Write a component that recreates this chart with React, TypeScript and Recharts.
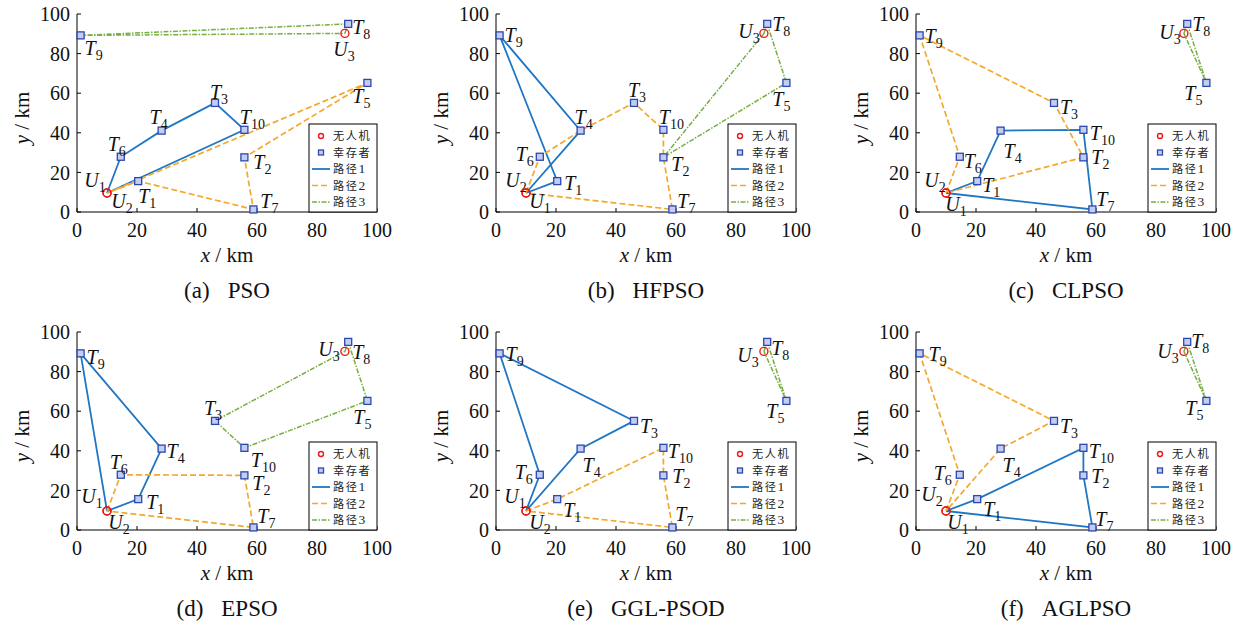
import { ScatterChart, Scatter, XAxis, YAxis } from "recharts";

// ---- data ----
const TARGET_NAMES = ["T1", "T2", "T3", "T4", "T5", "T6", "T7", "T8", "T9", "T10"];
const TARGET_X = [20.4, 55.8, 46, 28.2, 96.8, 14.6, 58.8, 90.4, 1.2, 55.8];
const TARGET_Y = [15.6, 27.6, 55.1, 41.1, 65.2, 27.9, 1.3, 95, 89.2, 41.5];

const UAV_NAMES = ["U1", "U2", "U3"];
const UAV_X = [10, 10, 89.3];
const UAV_Y = [9.6, 9.6, 90.2];

const AXIS_TICKS = [0, 20, 40, 60, 80, 100];

const PANEL_IDS = ["a", "b", "c", "d", "e", "f"];
const PANEL_ALGOS = ["PSO", "HFPSO", "CLPSO", "EPSO", "GGL-PSOD", "AGLPSO"];

const MARKER_NAMES = ["无人机", "幸存者"];
const ROUTE_NAMES = ["路径", "路径", "路径"];

// visiting order of each UAV, per algorithm
const ROUTES_PSO = [
  ["U1", "T6", "T4", "T3", "T10", "U1"],
  ["U2", "T5", "T2", "T7", "T1", "U2"],
  ["U3", "T8", "T9", "U3"],
];
const ROUTES_HFPSO = [
  ["U1", "T1", "T9", "T4", "U1"],
  ["U2", "T6", "T4", "T3", "T10", "T2", "T7", "U2"],
  ["U3", "T8", "T5", "T2", "U3"],
];
const ROUTES_CLPSO = [
  ["U1", "T1", "T4", "T10", "T7", "U1"],
  ["U2", "T6", "T9", "T3", "T2", "U2"],
  ["U3", "T8", "T5", "U3"],
];
const ROUTES_EPSO = [
  ["U1", "T1", "T4", "T9", "U1"],
  ["U2", "T6", "T2", "T7", "U2"],
  ["U3", "T8", "T5", "T10", "T3", "U3"],
];
const ROUTES_GGL = [
  ["U1", "T6", "T9", "T3", "T4", "U1"],
  ["U2", "T1", "T10", "T2", "T7", "U2"],
  ["U3", "T8", "T5", "U3"],
];
const ROUTES_AGL = [
  ["U1", "T1", "T10", "T2", "T7", "U1"],
  ["U2", "T6", "T9", "T3", "T4", "U2"],
  ["U3", "T8", "T5", "U3"],
];
const PANEL_ROUTES = [ROUTES_PSO, ROUTES_HFPSO, ROUTES_CLPSO, ROUTES_EPSO, ROUTES_GGL, ROUTES_AGL];

// ---- label placement (px offset of label centre from its marker) ----
type Off = Record<string, [number, number]>;
const LABEL_OFFSETS: Off[] = [
  { T9: [13, 13], T8: [13, 3], U3: [-1, 16], T5: [-6, 13], T3: [4, -11], T4: [-3, -14], T10: [8, -13], T6: [-4, -13], T2: [18, 5], U1: [-12, -13], U2: [15, 8], T1: [9, 15], T7: [16, -8] },
  { T9: [14, 0], T4: [3, -14], T3: [3, -13], T10: [8, -13], T6: [-15, -3], U2: [-10, -13], U1: [14, 8], T1: [16, 2], T2: [17, 7], T7: [14, -8], U3: [-15, -2], T8: [14, 0], T5: [-5, 16] },
  { T9: [14, 1], T3: [15, 4], T10: [19, 3], T4: [12, 20], T6: [13, 4], T2: [17, 0], U2: [-11, -13], U1: [10, 11], T1: [14, 4], T7: [13, -10], U3: [-14, -1], T8: [14, 0], T5: [-13, 10] },
  { T9: [15, 4], U3: [-16, -2], T8: [13, 10], T3: [-2, -13], T5: [-5, 16], T10: [19, 12], T4: [14, 2], T6: [-2, -13], T2: [17, 8], U1: [-15, -15], U2: [12, 11], T1: [17, 3], T7: [13, -11] },
  { T9: [15, 1], T8: [13, 6], U3: [-16, 4], T5: [-11, 10], T3: [15, 5], T4: [11, 16], T10: [17, 3], T6: [-16, -3], T2: [18, 1], U1: [-11, -15], U2: [14, 11], T1: [15, 11], T7: [12, -13] },
  { T9: [18, 1], T8: [13, -1], U3: [-16, 0], T5: [-12, 7], T3: [15, 5], T4: [11, 16], T10: [18, 3], T6: [-17, -2], T2: [17, 1], U2: [-14, -17], U1: [12, 11], T1: [15, 10], T7: [12, -8] },
];

const SERIF = '"Liberation Serif", "Times New Roman", serif';
const CJK = '"Noto Sans CJK SC", sans-serif';
const ROUTE_STYLES = [
  { stroke: "#1f77c4", strokeWidth: 1.8, strokeDasharray: undefined as string | undefined },
  { stroke: "#f2a92e", strokeWidth: 1.7, strokeDasharray: "6 3" },
  { stroke: "#76b041", strokeWidth: 1.5, strokeDasharray: "5 1.5 1.5 1.5" },
];

const PANEL_LEFT = [0, 419, 839];
const PANEL_TOP = [0, 318];

const pointOf: Record<string, { x: number; y: number }> = {};
TARGET_NAMES.forEach((n, i) => (pointOf[n] = { x: TARGET_X[i], y: TARGET_Y[i] }));
UAV_NAMES.forEach((n, i) => (pointOf[n] = { x: UAV_X[i], y: UAV_Y[i] }));

const targets = TARGET_NAMES.map((name) => ({ name, ...pointOf[name] }));
const uavs = UAV_NAMES.map((name) => ({ name, ...pointOf[name] }));

function NameLabel({ x, y, name }: { x: number; y: number; name: string }) {
  return (
    <text x={x} y={y + 7} textAnchor="middle" fontFamily={SERIF} fontSize={20} fill="#111">
      <tspan fontStyle="italic">{name[0]}</tspan>
      <tspan fontSize={14} dy={5}>{name.slice(1)}</tspan>
    </text>
  );
}

function Panel({ idx }: { idx: number }) {
  const offs = LABEL_OFFSETS[idx];
  const left = PANEL_LEFT[idx % 3];
  const top = PANEL_TOP[Math.floor(idx / 3)];
  const labelAt = (p: any) => {
    const o = offs[p.payload.name] || [12, 0];
    return <NameLabel x={p.cx + o[0]} y={p.cy + o[1]} name={p.payload.name} />;
  };
  const axisTick = { fontSize: 20, fill: "#111", fontFamily: SERIF };
  return (
    <div style={{ position: "absolute", left, top, width: 400, height: 310 }}>
      <ScatterChart width={400} height={245} margin={{ top: 14, right: 23, bottom: 0, left: 0 }}>
        <XAxis type="number" dataKey="x" domain={[0, 100]} ticks={AXIS_TICKS} height={33}
          stroke="#000" tickSize={-4} tickMargin={15} tick={axisTick} interval={0} />
        <XAxis xAxisId="top" orientation="top" type="number" dataKey="x" domain={[0, 100]}
          ticks={AXIS_TICKS} height={0} stroke="#000" tickSize={-4} tickFormatter={() => ""} />
        <YAxis type="number" dataKey="y" domain={[0, 100]} ticks={AXIS_TICKS} width={77}
          stroke="#000" tickSize={-4} tickMargin={11} tick={axisTick} interval={0} />
        <YAxis yAxisId="right" orientation="right" type="number" dataKey="y" domain={[0, 100]}
          ticks={AXIS_TICKS} width={0} stroke="#000" tickSize={-4} tickFormatter={() => ""} />
        {PANEL_ROUTES[idx].map((route, r) => (
          <Scatter key={r} name={`${ROUTE_NAMES[r]} ${r + 1}`} data={route.map((n) => pointOf[n])}
            line={ROUTE_STYLES[r]} lineType="joint" shape={() => <g />} isAnimationActive={false} />
        ))}
        <Scatter name={MARKER_NAMES[1]} data={targets} isAnimationActive={false}
          shape={(p: any) => (
            <rect x={p.cx - 3.5} y={p.cy - 3.5} width={7} height={7} fill="#c3cdef" stroke="#2b47b0" strokeWidth={1.3} />
          )} />
        <Scatter name={MARKER_NAMES[0]} data={uavs} isAnimationActive={false}
          shape={(p: any) => <circle cx={p.cx} cy={p.cy} r={4} fill="none" stroke="#f01818" strokeWidth={1.4} />} />
        <Scatter data={targets} isAnimationActive={false} shape={labelAt} />
        <Scatter data={uavs} isAnimationActive={false} shape={labelAt} />
      </ScatterChart>
      <svg width={400} height={310} style={{ position: "absolute", left: 0, top: 0, pointerEvents: "none" }}>
        <text transform="translate(29,118) rotate(-90)" textAnchor="middle" fontFamily={SERIF} fontSize={21} fill="#111">
          <tspan fontStyle="italic">y</tspan> / km
        </text>
        <text x={227} y={262} textAnchor="middle" fontFamily={SERIF} fontSize={21} fill="#111">
          <tspan fontStyle="italic">x</tspan> / km
        </text>
        <text x={227} y={298} textAnchor="middle" fontFamily={SERIF} fontSize={23} fill="#111">
          ({PANEL_IDS[idx]})<tspan dx={18}>{PANEL_ALGOS[idx]}</tspan>
        </text>
        <g>
          <rect x={309} y={124} width={68} height={88} fill="#fff" stroke="#000" strokeWidth={1} />
          <circle cx={321} cy={136} r={2.5} fill="none" stroke="#f01818" strokeWidth={1.4} />
          <rect x={318.5} y={150} width={5} height={5} fill="#c3cdef" stroke="#2b47b0" strokeWidth={1.3} />
          {ROUTE_STYLES.map((s, r) => (
            <line key={r} x1={312} x2={330} y1={169 + r * 16.5} y2={169 + r * 16.5} {...s} />
          ))}
          {MARKER_NAMES.map((t, i) => (
            <text key={t} x={333} y={140 + i * 16.5} fontFamily={CJK} fontSize={11.2} letterSpacing={1.5} fill="#222">{t}</text>
          ))}
          {ROUTE_NAMES.map((t, r) => (
            <text key={r} x={333} y={173 + r * 16.5} fontFamily={CJK} fontSize={11.2} letterSpacing={1.5} fill="#222">
              {t}
              <tspan fontFamily={SERIF} fontSize={13.5} letterSpacing={0}>{r + 1}</tspan>
            </text>
          ))}
        </g>
      </svg>
    </div>
  );
}

export default function App() {
  return (
    <div style={{ position: "absolute", left: 0, top: 0, width: 1240, height: 625, background: "#fff" }}>
      {PANEL_IDS.map((_, i) => (
        <Panel key={i} idx={i} />
      ))}
    </div>
  );
}
